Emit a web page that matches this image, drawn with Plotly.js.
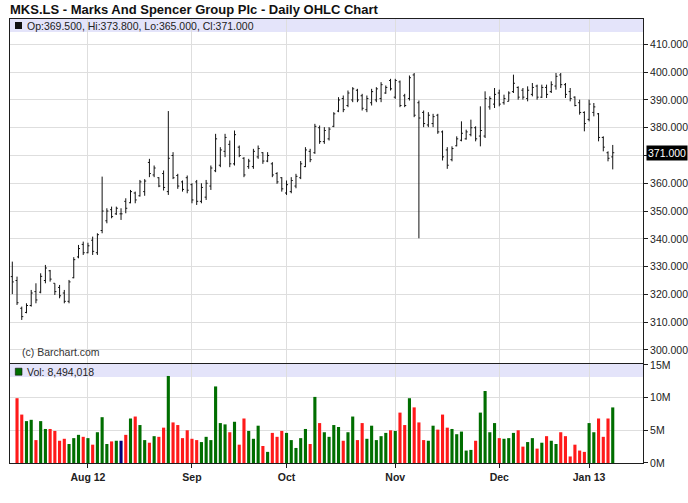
<!DOCTYPE html>
<html><head><meta charset="utf-8">
<script src="https://cdn.plot.ly/plotly-3.0.1.min.js"></script>
<style>html,body{margin:0;padding:0;background:#fff}#chart{width:688px;height:503px}</style>
</head><body><div id="chart"></div>
<script>
// Trading days (day numbers per month)
const jul12 = [10,11,12,13,16,17,18,19,20,23,24,25,26,27,30,31];
const aug12 = [1,2,3,6,7,8,9,10,13,14,15,16,17,20,21,22,23,24,28,29,30,31];
const sep12 = [3,4,5,6,7,10,11,12,13,14,17,18,19,20,21,24,25,26,27,28];
const oct12 = [1,2,3,4,5,8,9,10,11,12,15,16,17,18,19,22,23,24,25,26,29,30,31];
const nov12 = [1,2,5,6,7,8,9,12,13,14,15,16,19,20,21,22,23,26,27,28,29,30];
const dec12 = [3,4,5,6,7,10,11,12,13,14,17,18,19,20,21,24,27,28,31];
const jan13 = [2,3,4,7,8,9];

const open = [326.4,325.0,315.0,313.5,316.0,321.0,320.8,325.0,328.5,324.0,322.5,320.5,317.5,326.0,333.5,338.0,335.0,339.5,335.0,343.0,
346.5,350.5,349.0,349.0,353.5,353.0,356.5,355.5,357.0,367.5,363.0,362.0,363.5,357.0,370.0,362.8,360.5,362.0,359.5,360.5,
353.5,355.0,359.0,364.5,366.5,371.5,374.0,367.0,373.0,369.0,366.0,366.0,369.5,371.0,368.0,367.0,363.5,362.0,356.5,357.0,
359.0,362.0,366.0,371.5,371.0,380.0,375.0,376.0,380.5,386.0,390.5,388.0,390.0,393.5,391.5,386.5,389.0,390.0,390.5,392.5,
397.0,391.0,396.5,391.5,390.5,399.0,389.0,385.5,381.0,381.5,384.5,378.5,372.0,368.5,373.5,375.5,376.0,377.5,380.0,377.0,
377.0,387.5,388.5,392.5,389.0,389.5,393.0,394.5,393.5,390.5,392.0,395.0,391.0,394.5,393.0,395.0,399.0,395.5,393.0,391.0,
389.0,385.5,383.0,385.5,385.0,376.5,371.0,369.5];
const high = [331.8,326.4,315.6,316.8,321.6,324.0,327.6,330.6,328.8,324.0,323.4,321.6,325.2,333.4,337.8,339.0,338.6,340.8,342.0,362.4,
351.0,351.6,351.6,351.0,354.6,357.6,357.0,361.2,361.5,368.8,366.4,362.2,364.6,386.0,371.2,363.4,361.0,362.8,360.0,361.2,
360.0,361.2,366.4,377.8,373.0,377.8,375.4,379.0,373.6,369.4,368.8,372.4,373.6,371.2,371.2,367.6,364.0,362.2,361.0,362.2,
363.4,368.0,373.0,372.4,381.4,380.8,380.2,380.2,385.6,391.0,391.6,393.4,394.6,394.0,392.2,391.6,394.0,394.6,396.4,395.2,
397.6,397.6,397.0,392.2,398.8,399.7,389.8,386.2,385.6,385.0,385.0,379.0,373.0,373.3,376.9,382.3,379.3,382.9,380.5,387.7,
393.1,391.3,394.3,393.7,391.9,393.1,399.1,394.9,394.3,394.9,396.1,395.5,395.5,395.5,396.7,399.7,399.7,396.1,394.3,391.3,
390.1,385.9,390.1,388.9,385.3,376.9,371.5,373.8];
const low = [320.1,316.2,310.8,313.2,315.6,316.8,320.4,324.0,324.6,319.8,318.6,316.8,316.8,325.8,333.0,334.2,334.8,334.2,334.2,342.0,
345.6,347.4,348.6,346.8,349.2,352.8,352.8,355.2,355.5,362.2,362.2,358.6,357.4,355.8,361.5,358.0,357.0,356.4,352.8,352.2,
352.8,354.0,357.6,364.0,365.8,369.4,365.8,366.4,369.4,362.2,365.2,365.2,368.8,367.0,367.6,362.2,359.8,357.0,355.8,356.4,
358.2,361.5,365.8,367.6,370.6,374.2,374.2,375.4,380.2,385.6,385.6,387.4,389.2,389.2,386.2,385.6,388.0,389.2,389.2,392.2,
393.4,390.4,387.4,387.4,389.8,383.8,340.2,380.2,380.2,380.2,377.8,368.2,365.2,367.9,373.3,375.1,375.7,376.9,375.1,373.3,
376.3,386.5,387.1,387.7,388.3,389.5,392.5,390.1,390.1,389.5,391.3,390.1,390.7,390.7,392.5,393.7,394.3,390.7,389.5,387.7,
384.7,378.7,382.3,384.1,375.1,371.5,367.9,365.0];
const close = [324.5,317.0,312.0,316.0,320.5,318.0,326.5,329.5,325.5,321.0,319.5,317.5,324.5,332.5,336.5,335.0,337.5,335.5,341.5,350.0,
350.0,348.0,351.0,349.0,351.0,357.0,354.0,360.5,360.8,363.5,365.5,359.0,358.5,369.0,362.0,359.0,357.8,357.5,354.0,353.5,
358.5,360.0,365.5,376.0,372.0,376.5,367.0,377.5,370.0,363.0,368.0,371.5,372.5,368.0,370.0,363.0,360.5,358.0,359.5,361.0,
362.5,367.0,372.0,368.5,380.5,375.0,379.0,379.5,385.0,390.0,386.5,392.5,394.0,390.0,387.0,390.5,393.0,394.0,395.5,394.5,
394.0,397.0,388.0,388.0,398.0,384.5,383.5,381.5,384.5,384.0,378.5,369.5,366.5,372.5,376.0,378.0,378.5,380.0,376.0,379.0,
390.5,390.5,392.0,388.5,390.5,392.5,396.0,391.0,391.0,393.5,394.5,391.0,394.5,392.0,395.5,398.5,395.5,392.0,390.5,388.0,
385.5,381.5,388.5,387.5,376.5,373.0,369.0,371.0];
const volume = [null,9.9,7.4,6.4,6.6,3.5,6.4,5.2,5.2,4.9,3.4,3.7,2.9,3.8,4.3,4.0,3.8,2.8,4.7,7.0,
2.9,3.3,3.4,3.4,4.3,6.8,7.1,5.8,3.5,3.1,4.1,4.0,5.4,13.3,6.2,5.8,3.8,5.0,3.7,3.5,
3.2,4.0,3.5,11.7,6.1,5.9,4.7,6.3,2.8,6.8,4.9,3.7,5.7,2.6,1.7,4.6,4.0,4.9,4.6,3.5,
2.3,3.8,5.2,2.9,10.1,6.1,4.7,4.0,5.8,5.5,3.4,4.7,7.1,3.5,6.1,3.7,5.7,3.5,4.1,4.6,
5.0,4.9,7.7,5.8,9.9,8.5,6.2,3.5,3.4,5.7,5.1,7.4,5.4,5.2,4.4,4.8,1.9,2.0,3.4,7.7,
11.0,4.7,6.1,3.8,3.7,3.8,4.6,5.0,2.5,3.2,3.8,2.2,3.1,4.1,3.4,2.9,4.7,4.1,1.0,2.8,
1.9,1.7,6.1,4.7,6.8,4.0,6.8,8.494018]; // millions
const monthTicks = ['2012-08-01','2012-09-03','2012-10-01','2012-11-01','2012-12-03','2013-01-02'];
const monthLabels = ['Aug 12','Sep','Oct','Nov','Dec','Jan 13'];
const priceTicks = [300,310,320,330,340,350,360,370,380,390,400,410];
const priceLabels = ['300.000','310.000','320.000','330.000','340.000','350.000','360.000','','380.000','390.000','400.000','410.000'];
const volTicks = [0,5,10,15];
const volLabels = ['0M','5M','10M','15M'];
const lastBar = {op:369.5, hi:373.8, lo:365.0, cl:371.0, vol:8494018};

function pad(n){return (n<10?'0':'')+n;}
const dates = [];
[['2012-07',jul12],['2012-08',aug12],['2012-09',sep12],['2012-10',oct12],['2012-11',nov12],['2012-12',dec12],['2013-01',jan13]]
  .forEach(([m,days])=>days.forEach(d=>dates.push(m+'-'+pad(d))));

const volColors = open.map((o,i)=> close[i]>o ? '#006e00' : (close[i]<o ? '#ff1a1a' : '#00007a'));

const FONT = '"Liberation Sans", Arial, sans-serif';
const GRID = '#dedede';
const LINE = '#1e1e1e';
const yRange = [295.3, 419.14];
const vRange = [0, 15.13];
const xr = [-0.4865, 133.4];

const traces = [
  {type:'ohlc', x:dates, open:open, high:high, low:low, close:close, xaxis:'x', yaxis:'y',
   increasing:{line:{color:'#111',width:1}}, decreasing:{line:{color:'#111',width:1}},
   tickwidth:0.32, hoverinfo:'skip'},
  {type:'bar', x:dates, y:volume, xaxis:'x2', yaxis:'y2', width:0.66,
   marker:{color:volColors, line:{width:0}}, hoverinfo:'skip'}
];

const fmt = v => v.toFixed(3);
const layout = {
  width:688, height:503,
  margin:{l:10, r:45, t:19, b:40},
  paper_bgcolor:'#fff', plot_bgcolor:'#fff',
  showlegend:false,
  font:{family:FONT, size:10.5, color:'#222'},
  title:{text:'MKS.LS - Marks And Spencer Group Plc - Daily OHLC Chart',
    xref:'container', yref:'container', x:10/688, xanchor:'left', y:1-9/503, yanchor:'middle',
    font:{family:FONT, size:13, weight:'bold', color:'#111'}},
  xaxis:{type:'category', anchor:'y', domain:[0,1], range:xr, tickvals:monthTicks, showticklabels:false,
    showgrid:true, gridcolor:GRID, showline:true, mirror:true, linecolor:LINE, linewidth:1,
    ticks:'', zeroline:false, rangeslider:{visible:false}, fixedrange:true},
  xaxis2:{type:'category', anchor:'y2', matches:'x', range:xr, tickvals:monthTicks, ticktext:monthLabels,
    showgrid:true, gridcolor:GRID, showline:true, mirror:true, linecolor:LINE, linewidth:1,
    ticks:'outside', ticklen:4, tickcolor:LINE, tickfont:{family:FONT, size:10.5, weight:'bold', color:'#222'},
    zeroline:false, rangeslider:{visible:false}, fixedrange:true},
  yaxis:{anchor:'x', domain:[0.2252,1], side:'right', range:yRange, tickvals:priceTicks, ticktext:priceLabels,
    ticks:'outside', ticklen:4, tickcolor:LINE, showgrid:true, gridcolor:GRID, showline:true, mirror:true,
    linecolor:LINE, linewidth:1, zeroline:false, fixedrange:true},
  yaxis2:{anchor:'x2', domain:[0,0.223], side:'right', range:vRange, tickvals:volTicks, ticktext:volLabels,
    ticks:'outside', ticklen:4, tickcolor:LINE, showgrid:true, gridcolor:GRID, showline:true, mirror:true,
    linecolor:LINE, linewidth:1, zeroline:false, fixedrange:true},
  shapes:[
    {type:'rect', xref:'paper', yref:'y', x0:0, x1:1, y0:414.46, y1:yRange[1], fillcolor:'#e4e4fa', line:{width:0}, layer:'between'},
    {type:'rect', xref:'paper', yref:'y2', x0:0, x1:1, y0:13.15, y1:vRange[1], fillcolor:'#e4e4fa', line:{width:0}, layer:'between'},
    {type:'rect', xref:'paper', yref:'y', xsizemode:'pixel', ysizemode:'pixel', xanchor:0, yanchor:416.8,
      x0:5, x1:12, y0:-3.5, y1:3.5, fillcolor:'#111', line:{width:0}},
    {type:'rect', xref:'paper', yref:'y2', xsizemode:'pixel', ysizemode:'pixel', xanchor:0, yanchor:13.95,
      x0:5.3, x1:12, y0:-3.5, y1:3.5, fillcolor:'#006e00', line:{color:'#111',width:0.6}}
  ],
  annotations:[
    {xref:'paper', yref:'y', x:0, y:416.8, xanchor:'left', yanchor:'middle', xshift:15, showarrow:false,
      text:'Op:'+fmt(lastBar.op)+', Hi:'+fmt(lastBar.hi)+', Lo:'+fmt(lastBar.lo)+', Cl:'+fmt(lastBar.cl),
      font:{family:FONT, size:10.5, color:'#222'}},
    {xref:'paper', yref:'y2', x:0, y:13.95, xanchor:'left', yanchor:'middle', xshift:15, showarrow:false,
      text:'Vol: '+lastBar.vol.toLocaleString('en-US'), font:{family:FONT, size:10.5, color:'#222'}},
    {xref:'paper', yref:'y', x:0, y:299.4, xanchor:'left', yanchor:'middle', xshift:10, showarrow:false,
      text:'(c) Barchart.com', font:{family:FONT, size:10.5, color:'#333'}},
    {xref:'paper', yref:'y', x:1, y:lastBar.cl, xanchor:'left', yanchor:'middle', xshift:3, showarrow:false,
      text:fmt(lastBar.cl), bgcolor:'#000', borderpad:1, font:{family:FONT, size:10.5, color:'#fff'}}
  ]
};

Plotly.newPlot('chart', traces, layout, {displayModeBar:false, staticPlot:true});
</script></body></html>
